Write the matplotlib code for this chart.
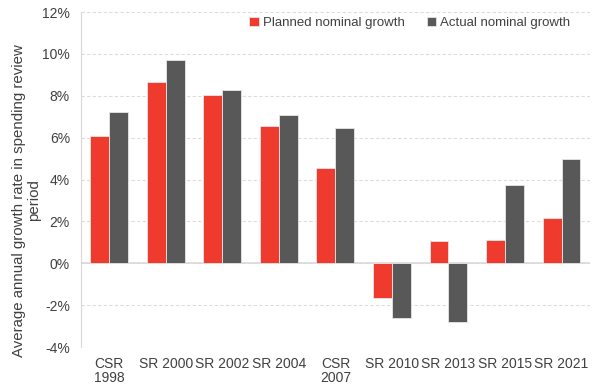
import numpy as np
from matplotlib import pyplot as plt

plt.rcParams['font.family'] = ['Liberation Sans', 'DejaVu Sans']

##### Data #####
periods = ["CSR\n1998", "SR 2000", "SR 2002", "SR 2004", "CSR\n2007",
           "SR 2010", "SR 2013", "SR 2015", "SR 2021"]
planned = [6.1, 8.67, 8.02, 6.57, 4.54, -1.65, 1.06, 1.12, 2.17]  # %
actual = [7.24, 9.69, 8.3, 7.08, 6.45, -2.62, -2.8, 3.73, 4.96]  # %

red = "#EE3B2E"
grey = "#585858"

fig = plt.figure(figsize=(6, 3.9), dpi=100)
ax = fig.add_axes([0.135, 0.110, 0.848, 0.859])

x = np.arange(len(periods))
w = 0.335
ax.bar(x - w/2, planned, w, color=red, edgecolor="#e6e6e6", linewidth=0.6,
       label="Planned nominal growth", zorder=3)
ax.bar(x + w/2, actual, w, color=grey, edgecolor="#e6e6e6", linewidth=0.6,
       label="Actual nominal growth", zorder=3)

ax.set_xlim(-0.5, len(periods) - 0.5)
ax.set_ylim(-4, 12)
ax.set_yticks(np.arange(-4, 13, 2))
ax.set_yticklabels([f"{v}%" for v in range(-4, 13, 2)], fontsize=10, color="#404040")
ax.set_xticks(x)
ax.set_xticklabels(periods, fontsize=10, color="#404040", linespacing=1.0)
ax.tick_params(length=0, pad=8)
ax.tick_params(axis="x", pad=7)

ax.grid(axis="y", linestyle=(0, (3, 2)), color="#dcdcdc", linewidth=0.8, zorder=0)
ax.axhline(0, color="#d9d9d9", linewidth=1.2, zorder=2)
for s in ["top", "right", "bottom"]:
    ax.spines[s].set_visible(False)
ax.spines["left"].set_color("#d9d9d9")

# y label sits centred on the figure height, not the axes
fig.text(0.044, 0.487, "Average annual growth rate in spending review\nperiod",
         rotation=90, ha="center", va="center", multialignment="center",
         fontsize=10.8, color="#404040", linespacing=1.05)

ax.legend(loc="upper right", bbox_to_anchor=(0.985, 1.022), ncol=2, frameon=False,
          fontsize=9.5, handlelength=0.7, handleheight=0.7, handletextpad=0.3,
          columnspacing=1.7, labelcolor="#404040")

plt.savefig("out.png")
